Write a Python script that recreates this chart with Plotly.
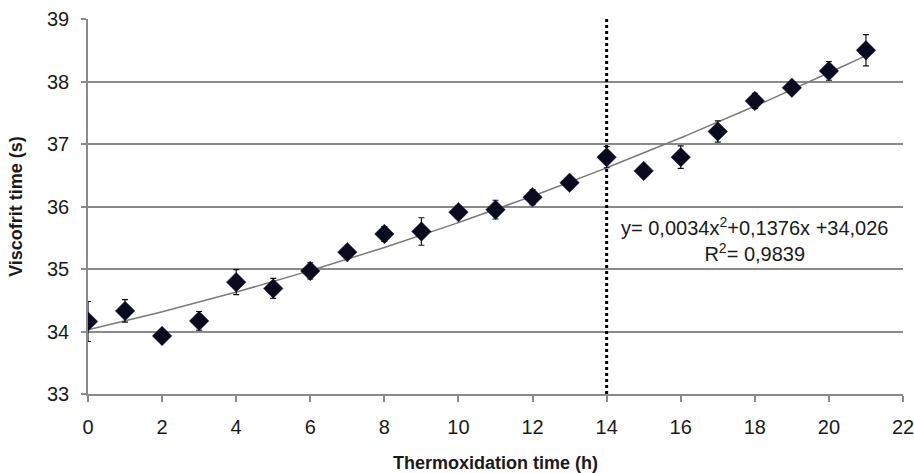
import numpy as np
import plotly.graph_objects as go

hours = [0, 1, 2, 3, 4, 5, 6, 7, 8, 9, 10, 11, 12, 13, 14, 15, 16, 17, 18, 19, 20, 21]
viscofrit = [34.16, 34.33, 33.93, 34.17, 34.79, 34.69, 34.97, 35.27, 35.56, 35.60, 35.91,
             35.95, 36.15, 36.38, 36.79, 36.57, 36.79, 37.20, 37.69, 37.90, 38.17, 38.50]
errors = [0.32, 0.18, 0.05, 0.15, 0.20, 0.16, 0.13, 0.05, 0.12, 0.22, 0.10,
          0.15, 0.12, 0.05, 0.17, 0.06, 0.18, 0.17, 0.12, 0.05, 0.15, 0.25]
fit_coeffs = [0.0034, 0.1376, 34.026]
fit_label = "y= 0,0034x<sup>2</sup>+0,1376x +34,026<br>R<sup>2</sup>= 0,9839"
cutoff_hour = 14
x_ticks = list(range(0, 23, 2))
y_ticks = [33, 34, 35, 36, 37, 38, 39]

FONT = "Liberation Sans, Arial, sans-serif"
GRID = "#8a8a8a"
TXT = "#1a1a1a"

fit_x = np.linspace(hours[0], hours[-1], 200)
fit_y = np.polyval(fit_coeffs, fit_x)

fig = go.Figure()

fig.add_trace(go.Scatter(
    x=fit_x, y=fit_y, mode="lines",
    line=dict(color="#7a7a7a", width=1.5),
    showlegend=False, hoverinfo="skip",
))

fig.add_trace(go.Scatter(
    x=[cutoff_hour, cutoff_hour], y=[33, 39.05], mode="lines",
    line=dict(color="black", width=3, dash="dot"),
    showlegend=False, hoverinfo="skip", cliponaxis=False,
))

fig.add_trace(go.Scatter(
    x=hours, y=viscofrit, mode="markers",
    marker=dict(symbol="diamond", size=15, color="#0a0a1e",
                line=dict(color="#1a1a40", width=0.5)),
    error_y=dict(type="data", array=errors, visible=True,
                 color="#111111", thickness=1.2, width=3),
    showlegend=False,
))

fig.add_annotation(
    x=18.0, y=35.47, xref="x", yref="y",
    text=fit_label, showarrow=False, align="center",
    font=dict(family=FONT, size=20, color=TXT),
    xanchor="center", yanchor="middle",
)

fig.update_layout(
    width=914, height=473,
    margin=dict(l=88, r=11, t=19, b=79),
    paper_bgcolor="white", plot_bgcolor="white",
    font=dict(family=FONT, size=20, color=TXT),
    showlegend=False,
)

fig.update_xaxes(
    range=[0, 22], tickvals=x_ticks, ticktext=[str(v) for v in x_ticks],
    showgrid=False, zeroline=False, automargin=False,
    showline=True, linecolor=GRID, linewidth=1.5,
    ticks="outside", ticklen=6, tickcolor=GRID, tickwidth=1.5,
    ticklabelstandoff=8, ticklabeloverflow="allow",
    tickfont=dict(family=FONT, size=20, color=TXT),
    title=dict(text="<b>Thermoxidation time (h)</b>",
               font=dict(family=FONT, size=18, color=TXT), standoff=22),
)

fig.update_yaxes(
    range=[33, 39], tickvals=y_ticks, ticktext=[str(v) for v in y_ticks],
    showgrid=True, gridcolor=GRID, gridwidth=1.5, zeroline=False, automargin=False,
    showline=True, linecolor=GRID, linewidth=1.5,
    ticks="outside", ticklen=5, tickcolor=GRID, tickwidth=1.5,
    ticklabelstandoff=8,
    tickfont=dict(family=FONT, size=20, color=TXT),
    title=dict(text="<b>Viscofrit time (s)</b>",
               font=dict(family=FONT, size=18, color=TXT), standoff=20),
)

fig.write_html("out.html")
